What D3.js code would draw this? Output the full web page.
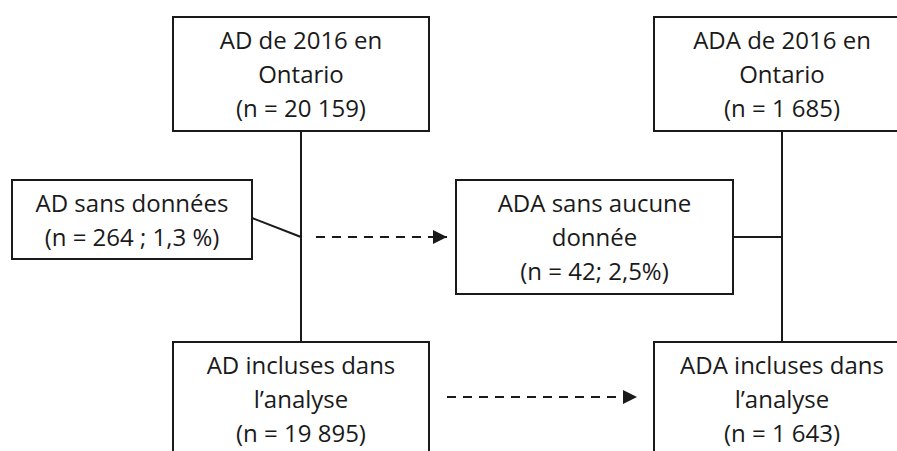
<!DOCTYPE html>
<html>
<head>
<meta charset="utf-8">
<script src="https://cdn.jsdelivr.net/npm/d3@7"></script>
<style>
  html, body { margin: 0; padding: 0; background: #fff; }
  svg { display: block; }
  text { font-family: "Open Sans", sans-serif; fill: #1a1a1a; }
</style>
</head>
<body>
<svg id="chart"></svg>
<script>
// flow columns and levels
var flows = ["AD", "ADA"];
var levels = ["total", "exclues", "incluses"];

// counts
var totals = ["20 159", "1 685"];
var excluded = ["264 ; 1,3 %", "42; 2,5%"];
var included = ["19 895", "1 643"];

// box labels
var totalLabels = [["AD de 2016 en", "Ontario"], ["ADA de 2016 en", "Ontario"]];
var excludedLabels = [["AD sans données"], ["ADA sans aucune", "donnée"]];
var includedLabels = [["AD incluses dans", "l’analyse"], ["ADA incluses dans", "l’analyse"]];

var width = 897, height = 451;
var stroke = "#1a1a1a";

var svg = d3.select("#chart").attr("width", width).attr("height", height);

// column centre of each flow, top of each level
var x = d3.scalePoint().domain(flows).range([301, 782]);
var y = d3.scaleOrdinal().domain(levels).range([17, 180, 342]);

var lineH = 34, firstLine = 32;

function buildNodes() {
    var nodes = [];
    flows.forEach(function (f, i) {
        nodes.push({ id: f + "-total", flow: f, level: "total", cx: x(f), w: 256, h: 114,
            lines: totalLabels[i].concat(["(n = " + totals[i] + ")"]) });
        nodes.push({ id: f + "-incl", flow: f, level: "incluses", cx: x(f), w: 256, h: 114,
            lines: includedLabels[i].concat(["(n = " + included[i] + ")"]) });
    });
    // side boxes for exclusions
    nodes.push({ id: "AD-excl", flow: "AD", level: "exclues", cx: x("AD") - 169, w: 240, h: 79,
        lines: excludedLabels[0].concat(["(n = " + excluded[0] + ")"]) });
    nodes.push({ id: "ADA-excl", flow: "ADA", level: "exclues", cx: x("ADA") - 187.5, w: 277, h: 114,
        lines: excludedLabels[1].concat(["(n = " + excluded[1] + ")"]) });
    return nodes;
}

var nodes = buildNodes();
var byId = {};
nodes.forEach(function (n) { n.x0 = n.cx - n.w / 2; n.y0 = y(n.level); byId[n.id] = n; });

var defs = svg.append("defs");
defs.append("marker")
    .attr("id", "arrow")
    .attr("viewBox", "0 0 10 10")
    .attr("refX", 10).attr("refY", 5)
    .attr("markerUnits", "userSpaceOnUse")
    .attr("markerWidth", 15).attr("markerHeight", 14)
    .attr("orient", "auto")
    .append("path")
    .attr("d", "M0,0L10,5L0,10Z")
    .attr("fill", stroke);

var links = svg.append("g").attr("fill", "none").attr("stroke", stroke).attr("stroke-width", 2);

// main vertical flows
flows.forEach(function (f) {
    var a = byId[f + "-total"], b = byId[f + "-incl"];
    links.append("line")
        .attr("x1", a.cx).attr("x2", a.cx)
        .attr("y1", a.y0 + a.h).attr("y2", b.y0);
});

// exclusion connectors
var midY = byId["AD-excl"].y0 + 57;
var adEx = byId["AD-excl"], adaEx = byId["ADA-excl"];
links.append("line")
    .attr("x1", adEx.x0 + adEx.w).attr("y1", adEx.y0 + 38)
    .attr("x2", x("AD")).attr("y2", midY);
links.append("line")
    .attr("x1", adaEx.x0 + adaEx.w).attr("y1", midY)
    .attr("x2", x("ADA")).attr("y2", midY);

// dashed arrows
links.append("line")
    .attr("x1", x("AD") + 15).attr("y1", midY)
    .attr("x2", adaEx.x0 - 9).attr("y2", midY)
    .attr("stroke-dasharray", "9,7")
    .attr("marker-end", "url(#arrow)");
var inclY = byId["AD-incl"].y0 + 55;
links.append("line")
    .attr("x1", byId["AD-incl"].x0 + byId["AD-incl"].w + 18).attr("y1", inclY)
    .attr("x2", byId["ADA-incl"].x0 - 17).attr("y2", inclY)
    .attr("stroke-dasharray", "9,7")
    .attr("marker-end", "url(#arrow)");

// boxes
var box = svg.append("g").selectAll("g").data(nodes).join("g")
    .attr("transform", function (d) { return "translate(" + d.x0 + "," + d.y0 + ")"; });

box.append("rect")
    .attr("width", function (d) { return d.w; })
    .attr("height", function (d) { return d.h; })
    .attr("fill", "#fff")
    .attr("stroke", stroke)
    .attr("stroke-width", 2);

box.append("text")
    .attr("text-anchor", "middle")
    .style("font-size", "24px")
    .selectAll("tspan").data(function (d) { return d.lines.map(function (l) { return { t: l, w: d.w }; }); })
    .join("tspan")
    .attr("x", function (d) { return d.w / 2; })
    .attr("y", function (d, i) { return firstLine + i * lineH; })
    .text(function (d) { return d.t; });
</script>
</body>
</html>
